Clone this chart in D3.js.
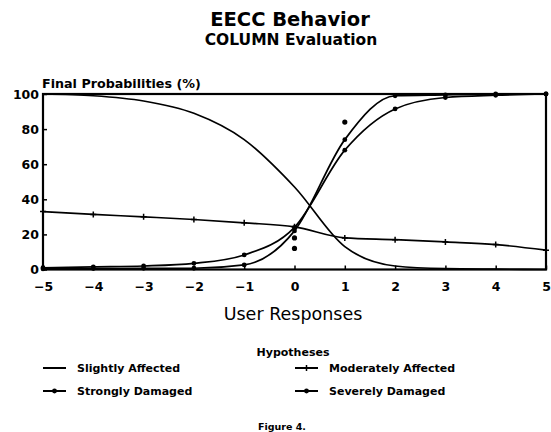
<!DOCTYPE html>
<html>
<head>
<meta charset="utf-8">
<script src="https://cdn.jsdelivr.net/npm/d3@7"></script>
<style>
  body { margin: 0; background: #fff; }
  text { font-family: 'DejaVu Sans', sans-serif; fill: #000; }
</style>
</head>
<body>
<svg id="chart" width="551" height="432"></svg>
<script>
// user responses (x) and the final probability (%) of each hypothesis
const responses = [-5, -4, -3, -2, -1, 0, 1, 2, 3, 4, 5];
const slightly = [100, 99, 96, 89, 74, 47, 13, 2, 0.5, 0.2, 0];
const moderately = [33, 31.4, 30, 28.5, 26.6, 24.3, 18, 17, 15.7, 14.2, 11];
const strongly = [1, 1.5, 2, 3.5, 8.3, 24, 68, 91.5, 98, 99.3, 100];
const severely = [0.3, 0.5, 0.7, 0.7, 2.6, 22, 74, 99, 99.5, 100, 100];
// loose points that sit off the curves
const strayX = [0, 0, 1];
const strayY = [18, 12, 84];
const yTicks = [0, 20, 40, 60, 80, 100];
const legendNames = ['Slightly Affected', 'Moderately Affected', 'Strongly Damaged', 'Severely Damaged'];

const svg = d3.select('#chart');
const plot = {left: 43, right: 546, top: 94, bottom: 269.5};

const x = d3.scaleLinear().domain([-5, 5]).range([plot.left, plot.right]);
const y = d3.scaleLinear().domain([0, 100]).range([plot.bottom, plot.top]);

// titles
svg.append('text').attr('x', 290).attr('y', 26).attr('text-anchor', 'middle')
  .attr('font-size', 19.5).attr('font-weight', 'bold').text('EECC Behavior');
svg.append('text').attr('x', 291).attr('y', 45).attr('text-anchor', 'middle')
  .attr('font-size', 15.5).attr('font-weight', 'bold').text('COLUMN Evaluation');
svg.append('text').attr('x', 42).attr('y', 88)
  .attr('font-size', 12.7).attr('font-weight', 'bold').text('Final Probabilities (%)');

// axes
const xAxis = d3.axisBottom(x).tickValues(responses).tickSizeInner(-4).tickSizeOuter(0).tickPadding(12.5);
const yAxis = d3.axisLeft(y).tickValues(yTicks).tickSizeInner(-4).tickSizeOuter(0).tickPadding(4);

const gx = svg.append('g').attr('transform', `translate(0, ${plot.bottom})`).call(xAxis);
const gy = svg.append('g').attr('transform', `translate(${plot.left}, 0)`).call(yAxis);
[gx, gy].forEach(g => {
  g.select('.domain').remove();
  g.selectAll('line').attr('stroke', '#000').attr('stroke-width', 1.5);
  g.selectAll('text').attr('font-family', 'DejaVu Sans').attr('font-size', 12.5)
    .attr('font-weight', 'bold').attr('fill', '#000');
});

// frame
svg.append('rect')
  .attr('x', plot.left).attr('y', plot.top)
  .attr('width', plot.right - plot.left).attr('height', plot.bottom - plot.top)
  .attr('fill', 'none').attr('stroke', '#000').attr('stroke-width', 2.2);

const line = d3.line()
  .x((d, i) => x(responses[i]))
  .y(d => y(d))
  .curve(d3.curveMonotoneX);

const curves = svg.append('g');
[slightly, moderately, strongly, severely].forEach(series => {
  curves.append('path')
    .datum(series)
    .attr('fill', 'none')
    .attr('stroke', '#000')
    .attr('stroke-width', 1.7)
    .attr('stroke-linejoin', 'round')
    .attr('d', line);
});

// dot markers for the damaged hypotheses
[strongly, severely].forEach(series => {
  curves.selectAll(null)
    .data(series)
    .join('circle')
    .attr('cx', (d, i) => x(responses[i]))
    .attr('cy', d => y(d))
    .attr('r', 2.4)
    .attr('fill', '#000');
});

// plus markers for moderately affected
curves.selectAll(null)
  .data(moderately)
  .join('path')
  .attr('d', (d, i) => {
    const cx = x(responses[i]), cy = y(d);
    return `M${cx - 3},${cy}H${cx + 3}M${cx},${cy - 3}V${cy + 3}`;
  })
  .attr('stroke', '#000')
  .attr('stroke-width', 1.5);

curves.selectAll(null)
  .data(strayY)
  .join('circle')
  .attr('cx', (d, i) => x(strayX[i]))
  .attr('cy', d => y(d))
  .attr('r', 2.6)
  .attr('fill', '#000');

// axis title
svg.append('text').attr('x', 293).attr('y', 320).attr('text-anchor', 'middle')
  .attr('font-size', 17.5).text('User Responses');

// legend
svg.append('text').attr('x', 293).attr('y', 356).attr('text-anchor', 'middle')
  .attr('font-size', 11).attr('font-weight', 'bold').text('Hypotheses');

const legendPos = [
  {lx: 43, ly: 368, marker: 'none'},
  {lx: 295, ly: 368, marker: 'plus'},
  {lx: 43, ly: 391, marker: 'dot'},
  {lx: 295, ly: 391, marker: 'dot'}
];
const legend = svg.append('g');
legendNames.forEach((name, i) => {
  const p = legendPos[i];
  const g = legend.append('g').attr('transform', `translate(${p.lx}, ${p.ly})`);
  g.append('line').attr('x1', 0).attr('x2', 23).attr('stroke', '#000').attr('stroke-width', 2);
  if (p.marker === 'dot') {
    g.append('circle').attr('cx', 11.5).attr('r', 2.4).attr('fill', '#000');
  } else if (p.marker === 'plus') {
    g.append('line').attr('x1', 11.5).attr('x2', 11.5).attr('y1', -3).attr('y2', 3)
      .attr('stroke', '#000').attr('stroke-width', 1.5);
  }
  g.append('text').attr('x', 34).attr('y', 4)
    .attr('font-size', 11).attr('font-weight', 'bold').text(name);
});

svg.append('text').attr('x', 282).attr('y', 430).attr('text-anchor', 'middle')
  .attr('font-size', 9.5).attr('font-weight', 'bold').text('Figure 4.');
</script>
</body>
</html>
